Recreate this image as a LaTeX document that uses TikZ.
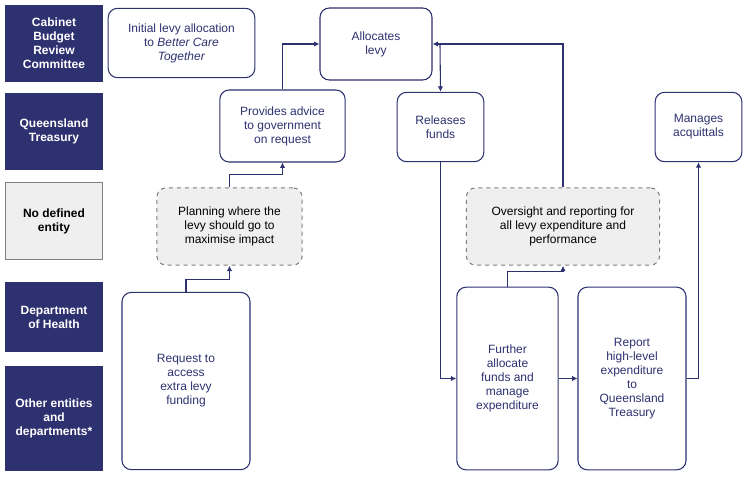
\documentclass[tikz,border=0pt]{standalone}
\usepackage{fontspec}
\setmainfont{Liberation Sans}
\usetikzlibrary{arrows.meta}
\definecolor{navy}{HTML}{2E3170}
\definecolor{lgray}{HTML}{EFEFEF}
\begin{document}
\begin{tikzpicture}[
	x = 0.75pt, y = -0.75pt,
	every node/.style = {font=\fontsize{9}{10.5}\selectfont, align=center, text=navy},
	role/.style = {draw=navy, fill=navy, text=white, font=\fontsize{9}{10.5}\selectfont\bfseries, minimum width=73pt},
	task/.style = {draw=navy, fill=white, rounded corners=7pt, line width=0.8pt},
	plan/.style = {draw=gray, dashed, fill=lgray, rounded corners=7pt, line width=0.8pt, text=black},
	flow/.style = {draw=navy, line width=0.8pt, -{Latex[length=4pt,width=4pt]}}
	]
	\useasboundingbox (0,0) rectangle (750,497);
	
	% roles on the left
	\node[role, minimum height=57pt] (cbrc) at (54,43.5) {Cabinet\\Budget\\Review\\Committee};
	\node[role, minimum height=57pt] (qt) at (54,131.5) {Queensland\\Treasury};
	\node[role, minimum height=58pt, fill=lgray, draw=gray, text=black] (none) at (54,221) {No defined\\entity};
	\node[role, minimum height=52pt] (doh) at (54,317) {Department\\of Health};
	\node[role, minimum height=78pt] (other) at (54,418) {Other entities\\and\\departments*};
	
	% tasks
	\node[task, minimum width=110pt, minimum height=52pt] (initial) at (181.5,43) {Initial levy allocation\\to \textit{Better Care}\\\textit{Together}};
	\node[task, minimum width=84pt, minimum height=54pt] (alloc) at (376,44) {Allocates\\levy};
	\node[task, minimum width=94pt, minimum height=54pt] (advice) at (282.5,126) {Provides advice\\to government\\on request};
	\node[task, minimum width=65pt, minimum height=52pt] (release) at (440.5,127) {Releases\\funds};
	\node[task, minimum width=65pt, minimum height=52pt] (acquit) at (698.5,127) {Manages\\acquittals};
	\node[plan, minimum width=109pt, minimum height=58pt] (planning) at (229.5,226.5) {Planning where the\\levy should go to\\maximise impact};
	\node[plan, minimum width=145pt, minimum height=58pt] (oversight) at (563,226.5) {Oversight and reporting for\\all levy expenditure and\\performance};
	\node[task, minimum width=96pt, minimum height=133pt] (request) at (186,381) {Request to\\access\\extra levy\\funding};
	\node[task, minimum width=76pt, minimum height=137pt] (further) at (507.5,378.5) {Further\\allocate\\funds and\\manage\\expenditure};
	\node[task, minimum width=81pt, minimum height=137pt] (report) at (632,378.5) {Report\\high-level\\expenditure\\to\\Queensland\\Treasury};
	
	% connectors
	\draw[flow] (request.north) -- ++(0,-12) -| (planning.south);
	\draw[flow] (planning.north) -- ++(0,-13) -| (advice.south);
	\draw[flow] (advice.north) |- (alloc.west);
	\coordinate (top) at (440,45);
	\draw[flow] (oversight.north) |- (alloc.east);
	\draw[flow] (top) -- (release.north);
	\draw[flow] (release.south) |- (further.west);
	\draw[flow] (further.north) -- ++(0,-15) -| (oversight.south);
	\draw[flow] (further.east) -- (report.west);
	\draw[flow] (report.east) -| (acquit.south);
\end{tikzpicture}
\end{document}
